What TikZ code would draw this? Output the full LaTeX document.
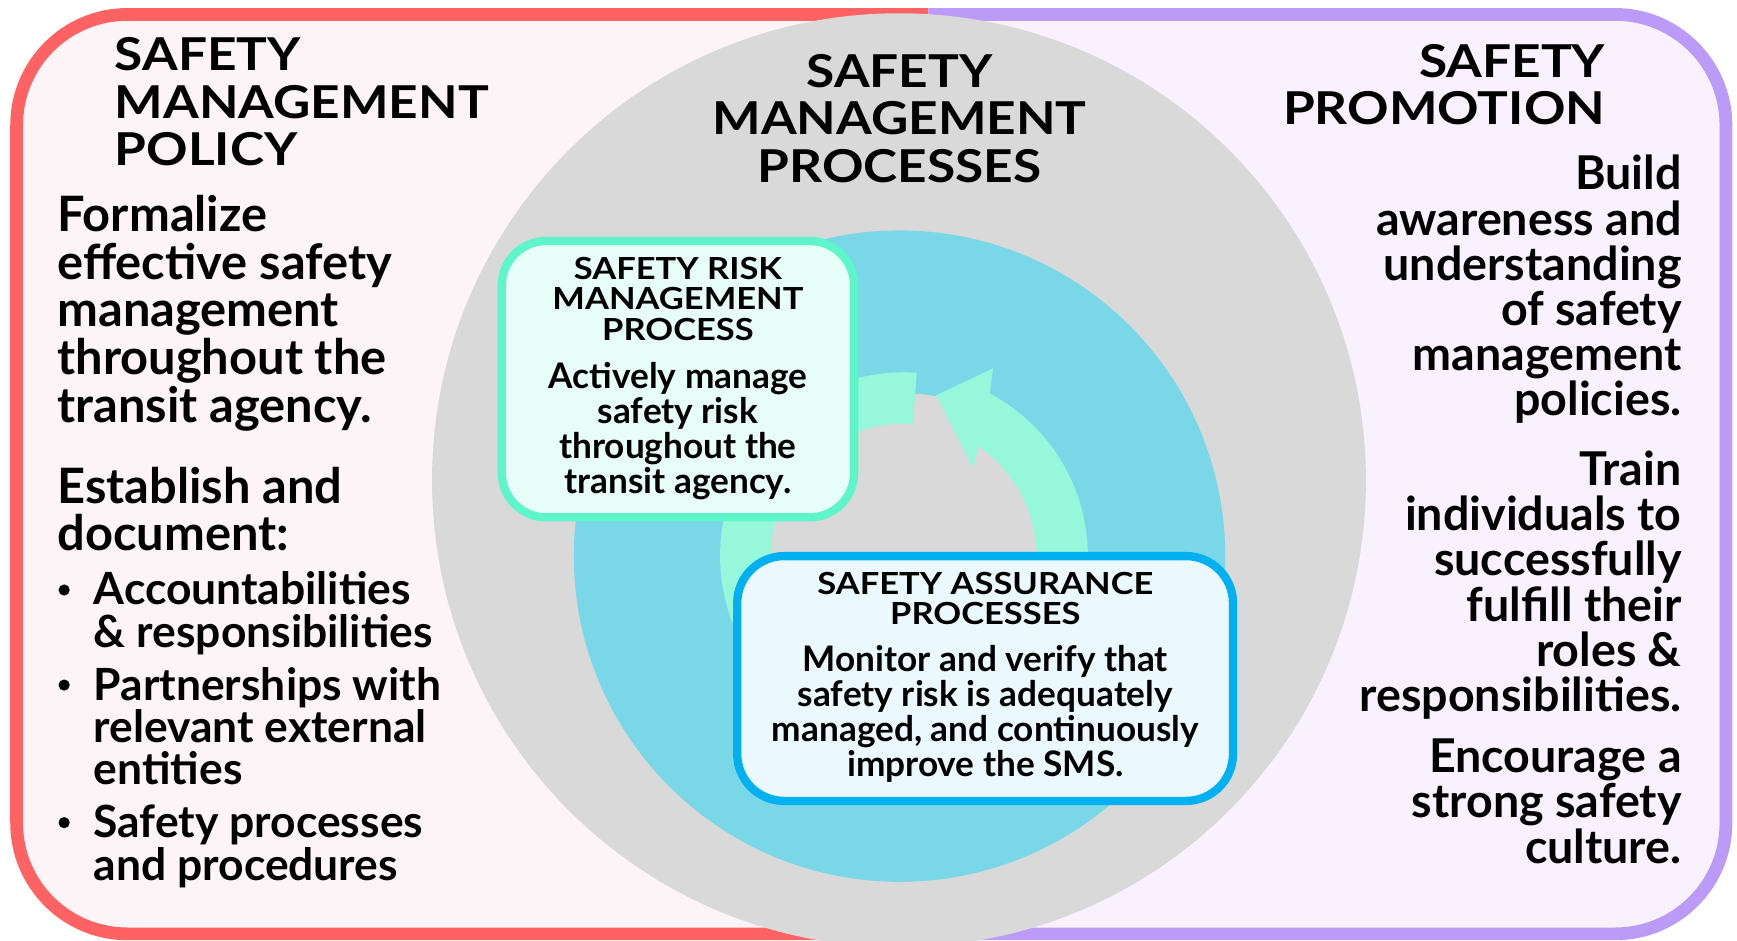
\documentclass[tikz,border=0pt]{standalone}
\usepackage{fontspec}
\setmainfont{Lato}
\newfontfamily\titlefont{Lato}[FakeStretch=1.135]
\definecolor{frameRed}{HTML}{FF6262}
\definecolor{framePurple}{HTML}{BB9BF7}
\definecolor{fillPink}{HTML}{FDF4F8}
\definecolor{fillLav}{HTML}{F9F1FD}
\definecolor{ringGray}{HTML}{D9D9D9}
\definecolor{discBlue}{HTML}{79D7E8}
\definecolor{arrowMint}{HTML}{96F7DA}
\definecolor{srmBorder}{HTML}{5FF5CA}
\definecolor{srmFill}{HTML}{E7FDF7}
\definecolor{saBorder}{HTML}{00B0F0}
\definecolor{saFill}{HTML}{EBF9FE}
\newcommand\bigtitle{\titlefont\bfseries\fontsize{22.65pt}{23.76pt}\selectfont\lineskiplimit=-20pt}
\newcommand\leftpara{\bfseries\fontsize{24.4pt}{23.8pt}\selectfont\lineskiplimit=-20pt}
\newcommand\bulletpara{\bfseries\fontsize{22.2pt}{21.2pt}\selectfont\lineskiplimit=-20pt}
\newcommand\rightpara{\bfseries\fontsize{23.3pt}{22.6pt}\selectfont\lineskiplimit=-20pt}
\newcommand\smalltitle{\titlefont\bfseries\fontsize{15.2pt}{15.2pt}\selectfont\lineskiplimit=-20pt}
\newcommand\boxbody{\bfseries\fontsize{17.6pt}{17.5pt}\selectfont\lineskiplimit=-20pt}
\tikzset{
  txt/.style={inner sep=0pt, outer sep=0pt, text=black},
  framepart/.style={line width=6.37pt, rounded corners=55.39pt},
  srmbox/.style={draw=srmBorder, fill=srmFill, line width=4.15pt, rounded corners=22.2pt, inner sep=0pt},
  sabox/.style={draw=saBorder, fill=saFill, line width=4.15pt, rounded corners=23.5pt, inner sep=0pt},
  bulletdot/.style={circle, fill=black, inner sep=0pt, minimum size=5.6pt},
}
\begin{document}
\begin{tikzpicture}[x=0.5539pt, y=-0.5539pt]
\useasboundingbox (0,0) rectangle (1568,849);
% frame halves
\begin{scope}
  \clip (0,0) rectangle (838,849);
  \draw[framepart, draw=frameRed, fill=fillPink] (15,13) rectangle (1558,843);
\end{scope}
\begin{scope}
  \clip (838,0) rectangle (1568,849);
  \draw[framepart, draw=framePurple, fill=fillLav] (15,13) rectangle (1558,843);
\end{scope}
% big gray circle
\fill[ringGray] (811.5,433.5) circle[radius=421.5];
% blue disc and inner gray disc
\fill[discBlue] (812,502) circle[radius=294];
\fill[ringGray] (816,502) circle[radius=147];
% mint circular arrow
\fill[arrowMint] ([shift={(816,502)}]-86:166) arc[start angle=-86, end angle=-422.2, radius=166]
  -- ([shift={(816,502)}]-64.6:187.7) -- ([shift={(816,502)}]-78.7:148)
  -- ([shift={(816,502)}]-51.8:101) -- ([shift={(816,502)}]-55.9:119.5)
  arc[start angle=-415.9, end angle=-86, radius=120] -- cycle;
% boxes
\node[srmbox, minimum width=176.14pt, minimum height=138.2pt] (srm) at (612,342.25) {};
\node[sabox, minimum width=247.9pt, minimum height=122.4pt] (sa) at (889.25,612.5) {};
% titles
\node[txt, anchor=base west] (policyTitle) at (103.6,63.8) {\parbox[t]{300pt}{\bigtitle\raggedright SAFETY\\MANAGEMENT\\POLICY}};
\node[txt, anchor=base] (processTitle) at (812,78.8) {\parbox[t]{300pt}{\bigtitle\centering SAFETY\\MANAGEMENT\\PROCESSES}};
\node[txt, anchor=base east] (promoTitle) at (1449,69.8) {\parbox[t]{300pt}{\bigtitle\raggedleft SAFETY\\PROMOTION}};
% left texts
\node[txt, anchor=base west] (formalize) at (51.8,209.1) {\parbox[t]{300pt}{\leftpara\raggedright Formalize\\effective safety\\management\\throughout the\\transit agency.}};
\node[txt, anchor=base west] (establish) at (51.8,454.3) {\parbox[t]{300pt}{\leftpara\raggedright Establish and\\document:}};
\node[bulletdot] (dot1) at (57.9,532.6) {};
\node[bulletdot] (dot2) at (57.9,618.4) {};
\node[bulletdot] (dot3) at (57.9,742.6) {};
\node[txt, anchor=base west] (item1) at (84.6,546.1) {\parbox[t]{300pt}{\bulletpara\raggedright Accountabilities\\\& responsibilities}};
\node[txt, anchor=base west] (item2) at (84.6,631.9) {\parbox[t]{300pt}{\bulletpara\raggedright Partnerships with\\relevant external\\entities}};
\node[txt, anchor=base west] (item3) at (84.6,756.1) {\parbox[t]{300pt}{\bulletpara\raggedright Safety processes\\and procedures}};
% right texts
\node[txt, anchor=base east] (build) at (1518,171.5) {\parbox[t]{300pt}{\rightpara\raggedleft Build\\awareness and\\understanding\\of safety\\management\\policies.}};
\node[txt, anchor=base east] (train) at (1518,438.3) {\parbox[t]{300pt}{\rightpara\raggedleft Train\\individuals to\\successfully\\fulfill their\\roles \&\\responsibilities.}};
\node[txt, anchor=base east] (encourage) at (1518,697.5) {\parbox[t]{300pt}{\rightpara\raggedleft Encourage a\\strong safety\\culture.}};
% box texts
\node[txt, anchor=base] (srmTitle) at (612,252.1) {\parbox[t]{200pt}{\smalltitle\centering SAFETY RISK\\MANAGEMENT\\PROCESS}};
\node[txt, anchor=base] (srmBody) at (612,350.5) {\parbox[t]{200pt}{\boxbody\centering Actively manage\\safety risk\\throughout the\\transit agency.}};
\node[txt, anchor=base] (saTitle) at (889.5,536.2) {\parbox[t]{240pt}{\smalltitle\centering SAFETY ASSURANCE\\PROCESSES}};
\node[txt, anchor=base] (saBody) at (889.5,606.3) {\parbox[t]{240pt}{\boxbody\centering Monitor and verify that\\safety risk is adequately\\managed, and continuously\\improve the SMS.}};
\end{tikzpicture}
\end{document}
